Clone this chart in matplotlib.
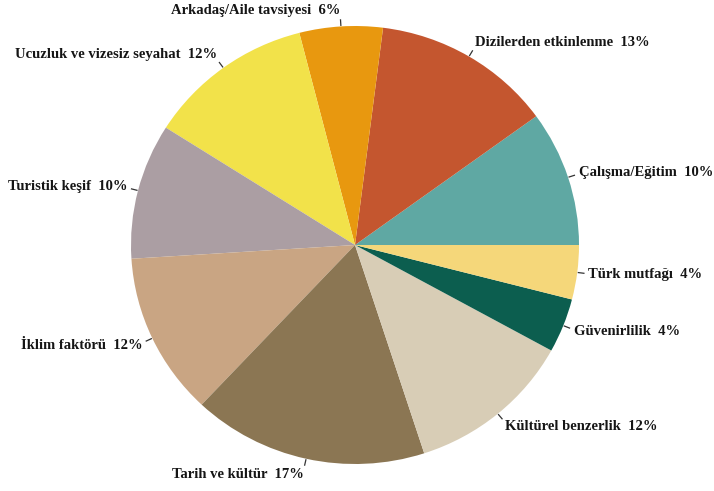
import numpy as np
import matplotlib
matplotlib.use("Agg")
import matplotlib.pyplot as plt

categories = ["Çalışma/Eğitim", "Dizilerden etkinlenme", "Arkadaş/Aile tavsiyesi",
              "Ucuzluk ve vizesiz seyahat", "Turistik keşif", "İklim faktörü",
              "Tarih ve kültür", "Kültürel benzerlik", "Güvenirlilik", "Türk mutfağı"]
values = [10, 13, 6, 12, 10, 12, 17, 12, 4, 4]
colors = ["#5fa8a3", "#c4562f", "#e8980f", "#f2e24a", "#ab9ea3",
          "#c9a583", "#8b7653", "#d8cdb6", "#0c5e4f", "#f5d77a"]

fig = plt.figure(figsize=(7.14, 4.91), dpi=100)
ax = fig.add_axes([0, 0, 1, 1])
wedges, _ = ax.pie(values, colors=colors, startangle=0, counterclock=True,
                   radius=1.0, wedgeprops=dict(linewidth=0))
ax.set_aspect("auto")
ax.set_xlim(-355 / 224, 359 / 224)
ax.set_ylim(-246 / 219, 245 / 219)
ax.axis("off")

for w, cat, v in zip(wedges, categories, values):
    ang = np.deg2rad((w.theta1 + w.theta2) / 2)
    c, s = np.cos(ang), np.sin(ang)
    ax.plot([1.005 * c, 1.03 * c], [1.005 * s, 1.03 * s], color="#333333", lw=0.9)
    ha = "left" if c >= 0 else "right"
    ax.text(1.05 * c, 1.075 * s, f"{cat}  {v}%", ha=ha, va="center",
            fontsize=10.5, fontweight="bold", family="Liberation Serif", color="#151515")

fig.savefig("out.png", dpi=100)
